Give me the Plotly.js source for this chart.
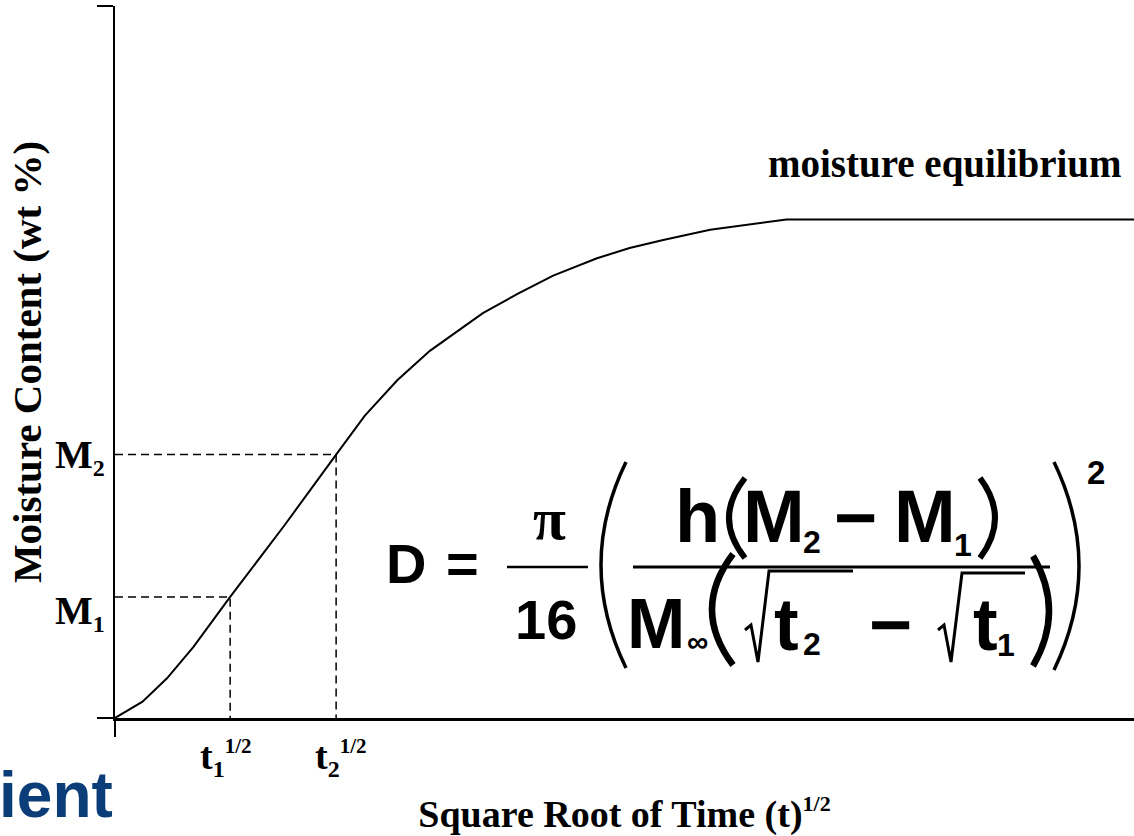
<!DOCTYPE html>
<html>
<head>
<meta charset="utf-8">
<script src="https://cdn.plot.ly/plotly-3.0.1.min.js"></script>
<style>
  html, body { margin: 0; padding: 0; background: #fff; }
  #chart { width: 1134px; height: 836px; }
</style>
</head>
<body>
<div id="chart"></div>
<script>
// square root of time (arbitrary units) and moisture content (wt %)
const sqrtTime = [0, 0.27, 0.51, 0.77, 1.13, 1.66, 2.17, 2.45, 2.77, 3.09, 3.61, 3.95, 4.30, 4.73, 5.05, 5.38, 5.84, 6.59, 10];
const moisture = [0, 0.16, 0.39, 0.70, 1.19, 1.89, 2.59, 2.97, 3.32, 3.61, 3.98, 4.17, 4.35, 4.52, 4.62, 4.70, 4.80, 4.90, 4.90];

// the two readings used in the slope formula
const readTimes = [1.13, 2.17];
const readMoisture = [1.19, 2.59];
const timeLabels = ['t<sub><span style="font-size:24px">1</span></sub><sup><span style="font-size:21px">1/2</span></sup>',
                    't<sub><span style="font-size:24px">2</span></sub><sup><span style="font-size:21px">1/2</span></sup>'];
const moistureLabels = ['M<sub><span style="font-size:24px">1</span></sub>',
                        'M<sub><span style="font-size:24px">2</span></sub>'];

const SERIF = 'Liberation Serif, Times New Roman, serif';
const SANS = 'Liberation Sans, Arial, sans-serif';

// plot box in page pixels, used to place the formula drawn on top
const M = { l: 115, r: 0, t: 6, b: 118 };
const W = 1134 - M.l - M.r, H = 836 - M.t - M.b;
const px = x => (x - M.l) / W;
const py = y => (836 - M.b - y) / H;

const traces = [{
    x: sqrtTime, y: moisture,
    mode: 'lines', type: 'scatter',
    line: { color: '#000', width: 2 },
    hoverinfo: 'skip', showlegend: false
}];

readTimes.forEach((t, i) => {
    traces.push({
        x: [0, t, t], y: [readMoisture[i], readMoisture[i], 0],
        mode: 'lines', type: 'scatter',
        line: { color: '#000', width: 1.5, dash: '8px,5px' },
        hoverinfo: 'skip', showlegend: false
    });
});

const annotations = [];

// M1 / M2 next to the y axis
const mShift = [11, 25];
readMoisture.forEach((m, i) => {
    annotations.push({
        xref: 'x', yref: 'y', x: 0, y: m,
        xanchor: 'right', yanchor: 'top', xshift: -8, yshift: mShift[i],
        text: '<b>' + moistureLabels[i] + '</b>', showarrow: false,
        font: { family: SERIF, size: 40, color: '#000' }
    });
});

// t1^1/2 / t2^1/2 under the x axis
const tShift = [-32, -23];
readTimes.forEach((t, i) => {
    annotations.push({
        xref: 'x', yref: 'y', x: t, y: 0,
        xanchor: 'left', yanchor: 'top', xshift: tShift[i], yshift: -14,
        text: '<b>' + timeLabels[i] + '</b>', showarrow: false,
        font: { family: SERIF, size: 38, color: '#000' }
    });
});

annotations.push({
    xref: 'paper', yref: 'paper', x: px(1124), y: py(164),
    xanchor: 'right', yanchor: 'middle',
    text: '<b>moisture equilibrium</b>', showarrow: false,
    font: { family: SERIF, size: 39, color: '#000' }
});

annotations.push({
    xref: 'paper', yref: 'paper', x: px(115), y: py(795),
    xanchor: 'right', yanchor: 'middle',
    text: '<b>ient</b>', showarrow: false,
    font: { family: SANS, size: 64, color: '#0b3d78' }
});

// formula glyphs: text, centre x, centre y (page px), size
const glyphs = [
    ['D', 406, 563, 56], ['=', 462, 563, 56], ['16', 546, 619, 56],
    ['h', 697, 516, 74], ['M', 774, 516, 74], ['2', 812, 542, 32],
    ['\u2212', 855, 517, 74], ['M', 925, 516, 74], ['1', 963, 545, 32],
    ['M', 656, 624, 70], ['\u221e', 697, 641, 30],
    ['t', 786, 624, 74], ['2', 812, 644, 32], ['\u2212', 890, 624, 74],
    ['t', 985, 624, 74], ['1', 1006, 645, 32],
    ['2', 1096, 472, 33]
];
glyphs.forEach(([txt, x, y, s]) => {
    annotations.push({
        xref: 'paper', yref: 'paper', x: px(x), y: py(y),
        xanchor: 'center', yanchor: 'middle', text: '<b>' + txt + '</b>',
        showarrow: false, font: { family: SANS, size: s, color: '#000' }
    });
});
annotations.push({
    xref: 'paper', yref: 'paper', x: px(549), y: py(519),
    xanchor: 'center', yanchor: 'middle', text: '<b>\u03c0</b>',
    showarrow: false, font: { family: SERIF, size: 60, color: '#000' }
});

const shapes = [];
const line = (x0, x1, y, w) => shapes.push({
    type: 'line', xref: 'paper', yref: 'paper',
    x0: px(x0), x1: px(x1), y0: py(y), y1: py(y),
    line: { color: '#000', width: w }
});
line(507, 588, 567, 2.5);
line(633, 1050, 567, 3);

// parenthesis: end x, bulge x, top y, bottom y, stroke
const paren = (xe, xb, y0, y1, w) => {
    const xc = 2 * xb - xe, ym = (y0 + y1) / 2;
    shapes.push({
        type: 'path', xref: 'paper', yref: 'paper',
        path: `M ${px(xe)},${py(y0)} Q ${px(xc)},${py(ym)} ${px(xe)},${py(y1)}`,
        line: { color: '#000', width: w }
    });
};
paren(626, 601, 462, 668, 3.5);
paren(1054, 1079, 462, 670, 3.5);
paren(745, 729, 478, 558, 6);
paren(980, 995, 478, 558, 6);
paren(733, 712, 554, 665, 6.5);
paren(1033, 1049, 556, 666, 6.5);

// radical signs with overbar
const radical = (x0, xEnd, yTop) => {
    const pts = [[x0, 630], [x0 + 6, 625], [x0 + 13, 662], [x0 + 24, yTop], [xEnd, yTop]];
    shapes.push({
        type: 'path', xref: 'paper', yref: 'paper',
        path: 'M ' + pts.map(p => px(p[0]) + ',' + py(p[1])).join(' L '),
        line: { color: '#000', width: 3 }
    });
};
radical(745, 853, 571);
radical(938, 1025, 573);

const axisBase = {
    showline: true, linecolor: '#000', linewidth: 2.5,
    ticks: 'outside', ticklen: 16, tickwidth: 2.5, tickcolor: '#000',
    showticklabels: false, showgrid: false, zeroline: false, fixedrange: true
};

const layout = {
    width: 1134, height: 836,
    margin: M,
    paper_bgcolor: '#fff', plot_bgcolor: '#fff',
    showlegend: false,
    xaxis: Object.assign({}, axisBase, {
        range: [0, 10], tickvals: [0],
        title: {
            text: '<b>Square Root of Time (t)<sup><span style="font-size:22px">1/2</span></sup></b>',
            font: { family: SERIF, size: 38, color: '#000' },
            standoff: 66
        }
    }),
    yaxis: Object.assign({}, axisBase, {
        range: [0, 7], tickvals: [0, 7],
        title: {
            text: '<b>Moisture Content (wt %)</b>',
            font: { family: SERIF, size: 41, color: '#000' },
            standoff: 42
        }
    }),
    annotations: annotations,
    shapes: shapes
};

Plotly.newPlot('chart', traces, layout, { displayModeBar: false, staticPlot: true });
</script>
</body>
</html>
